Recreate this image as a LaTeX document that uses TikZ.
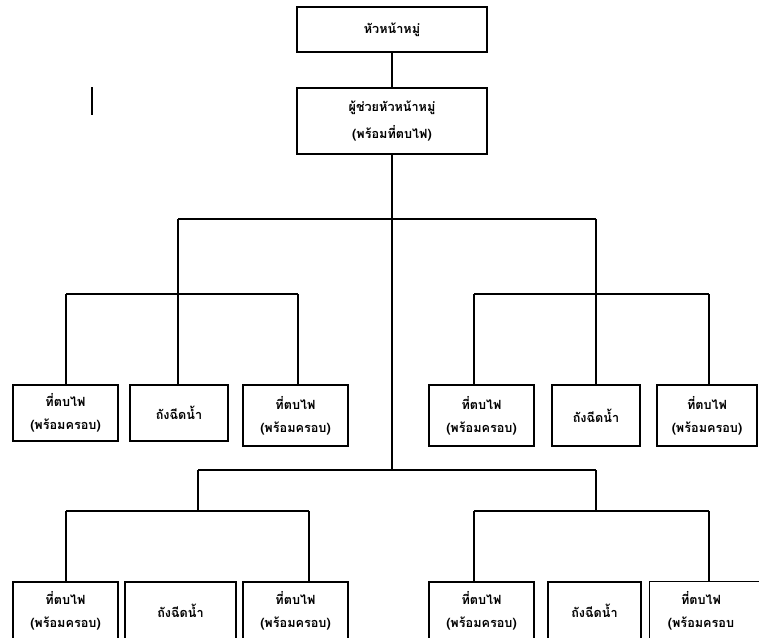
\documentclass[tikz,border=0pt]{standalone}
\usepackage{fontspec}
\newfontfamily\thaifont[Script=Thai]{Loma}
\def\pxu{0.75pt}
\begin{document}
\begin{tikzpicture}[x=0.75pt,y=-0.75pt,
  box/.style={draw, line width=0.9pt, inner sep=0pt, align=center,
    font=\thaifont\bfseries\fontsize{9.5}{17}\selectfont},
  tbox/.style={box, draw=none},
  link/.style={line width=0.9pt}]
\useasboundingbox (0,0) rectangle (759,637);
\clip (0,0) rectangle (759,637);
\fill[white] (0,0) rectangle (759,637);
% top
\node[box, minimum width=190*\pxu, minimum height=45*\pxu] (top) at (392,29.5) {หัวหน้าหมู่};
\node[box, minimum width=190*\pxu, minimum height=66*\pxu,
  font=\thaifont\bfseries\fontsize{9.5}{20}\selectfont] (sub) at (392,121) {ผู้ช่วยหัวหน้าหมู่\\(พร้อมที่ตบไฟ)};
% upper row
\node[box, minimum width=105*\pxu, minimum height=56*\pxu] (L1) at (65.5,413) {ที่ตบไฟ\\(พร้อมครอบ)};
\node[box, minimum width=98*\pxu, minimum height=56*\pxu] (L2) at (179,413) {ถังฉีดน้ำ};
\node[box, minimum width=105*\pxu, minimum height=61*\pxu] (L3) at (295.5,415.5) {ที่ตบไฟ\\(พร้อมครอบ)};
\node[box, minimum width=105*\pxu, minimum height=61*\pxu] (R1) at (481.5,415.5) {ที่ตบไฟ\\(พร้อมครอบ)};
\node[box, minimum width=88*\pxu, minimum height=61*\pxu] (R2) at (596,415.5) {ถังฉีดน้ำ};
\node[box, minimum width=100*\pxu, minimum height=61*\pxu] (R3) at (707,415.5) {ที่ตบไฟ\\(พร้อมครอบ)};
% lower row
\node[box, minimum width=105*\pxu, minimum height=58*\pxu] (BL1) at (65.5,611) {ที่ตบไฟ\\(พร้อมครอบ)};
\node[box, minimum width=111*\pxu, minimum height=58*\pxu] (BL2) at (180.5,611) {ถังฉีดน้ำ};
\node[box, minimum width=105*\pxu, minimum height=58*\pxu] (BL3) at (295.5,611) {ที่ตบไฟ\\(พร้อมครอบ)};
\node[box, minimum width=105*\pxu, minimum height=58*\pxu] (BR1) at (481.5,611) {ที่ตบไฟ\\(พร้อมครอบ)};
\node[box, minimum width=93*\pxu, minimum height=58*\pxu] (BR2) at (594.5,611) {ถังฉีดน้ำ};
\node[tbox, minimum width=102*\pxu, minimum height=58*\pxu] (BR3) at (701,611) {ที่ตบไฟ\\(พร้อมครอบ};
\draw[link] (BR3.south west) -- (BR3.north west) -- ++(160,0);
% connectors
\coordinate (j2) at (393,470);
\draw[link] (top) -- (sub);
\draw[link] (sub.south) -- (sub.south |- j2);
\coordinate (a) at (178,219); \coordinate (b) at (596,219);
\draw[link] (a) -- (b);
\coordinate (a1) at (178,294); \coordinate (al) at (66,294); \coordinate (ar) at (298,294);
\draw[link] (a) -- (a1);
\draw[link] (al) -- (ar);
\draw[link] (al) -- (al |- L1.north);
\draw[link] (a1) -- (a1 |- L2.north);
\draw[link] (ar) -- (ar |- L3.north);
\coordinate (b1) at (596,294); \coordinate (bl) at (474,294); \coordinate (br) at (709,294);
\draw[link] (b) -- (b1);
\draw[link] (bl) -- (br);
\draw[link] (bl) -- (bl |- R1.north);
\draw[link] (b1) -- (b1 |- R2.north);
\draw[link] (br) -- (br |- R3.north);
\coordinate (c) at (198,470); \coordinate (d) at (596,470);
\draw[link] (c) -- (d);
\coordinate (c1) at (198,511); \coordinate (cl) at (66,511); \coordinate (cr) at (309,511);
\draw[link] (c) -- (c1);
\draw[link] (cl) -- (cr);
\draw[link] (cl) -- (cl |- BL1.north);
\draw[link] (cr) -- (cr |- BL3.north);
\coordinate (d1) at (596,511); \coordinate (dl) at (474,511); \coordinate (dr) at (709,511);
\draw[link] (d) -- (d1);
\draw[link] (dl) -- (dr);
\draw[link] (dl) -- (dl |- BR1.north);
\draw[link] (dr) -- (dr |- BR3.north);
% stray cursor mark
\draw[line width=1.6pt] (92,87) -- (92,115);
\end{tikzpicture}
\end{document}
